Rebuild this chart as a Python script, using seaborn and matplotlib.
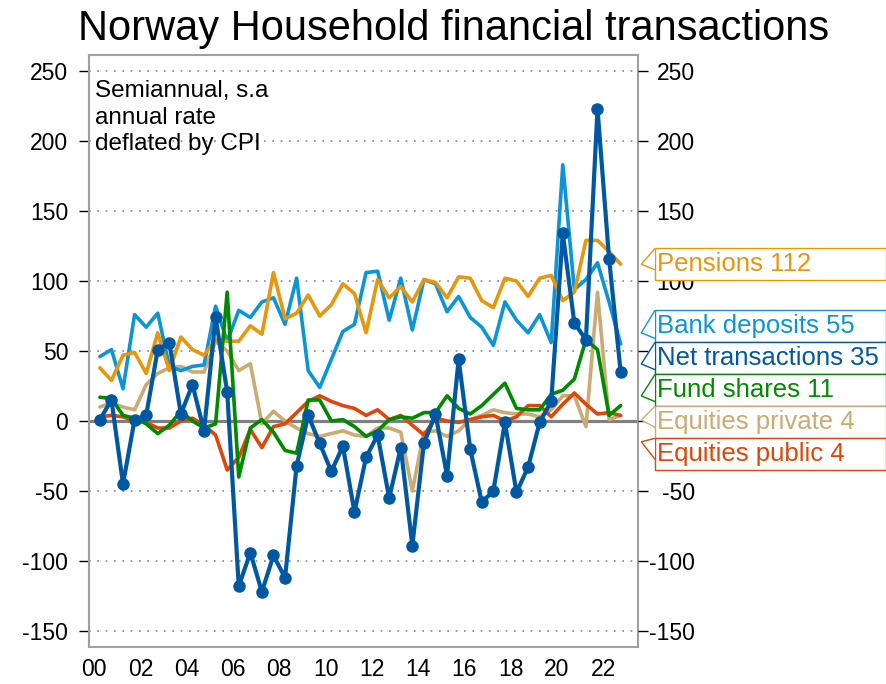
import numpy as np
import pandas as pd
import matplotlib.pyplot as plt
import matplotlib.transforms as mtransforms
from matplotlib.patches import Rectangle, Polygon
import seaborn as sns

sns.set_style('white')
plt.rcParams['font.family'] = ['Liberation Sans', 'DejaVu Sans']
plt.rcParams['axes.unicode_minus'] = False
plt.rcParams['text.color'] = 'black'
plt.rcParams['xtick.color'] = 'black'
plt.rcParams['ytick.color'] = 'black'

# Semiannual data, 2000H1 - 2022H2
years = np.repeat(np.arange(2000, 2023), 2)
half = np.tile([1, 2], 23)

net = [1, 15, -45, 1, 4, 51, 56, 5, 26, -7, 74, 21, -118, -94, -122, -96, -112, -32, 4, -16,
       -36, -18, -65, -26, -10, -55, -19, -89, -16, 5, -39, 44, -20, -58, -50, -1, -51, -33, -1, 14,
       134, 70, 58, 223, 116, 35]
pensions = [38, 29, 47, 49, 34, 63, 36, 60, 51, 47, 58, 57, 57, 68, 62, 106, 73, 77, 90, 75,
            83, 98, 91, 63, 101, 88, 96, 85, 101, 99, 88, 103, 102, 86, 81, 102, 100, 89, 102, 104,
            86, 92, 129, 129, 121, 112]
bank = [46, 51, 23, 76, 67, 77, 39, 36, 39, 40, 82, 57, 79, 74, 85, 88, 69, 102, 36, 24,
        44, 64, 69, 106, 107, 72, 102, 65, 101, 98, 78, 89, 74, 67, 54, 85, 72, 63, 76, 56,
        183, 94, 101, 113, 85, 55]
eq_private = [10, 13, 10, 8, 26, 34, 38, 39, 35, 35, 57, 50, 36, 41, -2, 7, 0, -5, -9, -11,
              -9, -7, -10, -11, -5, -5, -8, -50, -8, -7, -11, -7, 1, 4, 8, 6, 5, 5, 3, 8,
              18, 18, -4, 92, 1, 4]
eq_public = [3, 4, 3, 0, -1, -5, -5, 0, 2, -3, -10, -35, -26, -6, -19, -4, -2, 6, 14, 18,
             14, 11, 9, 4, 8, 1, 4, -3, -10, 2, 0, -1, 1, 3, 4, 0, 3, 11, 11, 3,
             12, 20, 12, 5, 6, 4]
fund = [17, 16, 4, 2, -2, -9, -3, 7, 0, -5, -2, 92, -40, -5, 1, -8, -21, -23, 15, 15,
        0, 1, -4, -11, -7, 1, 3, 2, 6, 6, 18, 9, 5, 11, 19, 27, 9, 8, 8, 19,
        22, 30, 58, 51, 4, 11]

xtick_years = np.arange(2000, 2023, 2)
xtick_labels = ['00', '02', '04', '06', '08', '10', '12', '14', '16', '18', '20', '22']
yticks = [-150, -100, -50, 0, 50, 100, 150, 200, 250]
# right side: 0 and 50 sit behind the label boxes
yticks_right = ['-150', '-100', '-50', '', '', '100', '150', '200', '250']

df = pd.DataFrame({'x': years + (half - 1) * 0.5 + 0.25,
                   'Net transactions': net, 'Pensions': pensions, 'Bank deposits': bank,
                   'Equities private': eq_private, 'Equities public': eq_public,
                   'Fund shares': fund})

colors = {'Pensions': '#E8960C', 'Bank deposits': '#0A96D6', 'Net transactions': '#0058A3',
          'Fund shares': '#008A00', 'Equities private': '#CBAB72', 'Equities public': '#E0450A'}

fig = plt.figure(figsize=(8.87, 6.84), dpi=100)
ax = fig.add_axes([89 / 887, 37 / 684, 549 / 887, 592 / 684])

ax.axhline(0, color='#808080', lw=2.3, zorder=1.5)
for name in ['Equities private', 'Bank deposits', 'Pensions', 'Equities public', 'Fund shares']:
    sns.lineplot(data=df, x='x', y=name, color=colors[name], lw=2.6, ax=ax, zorder=3)
sns.lineplot(data=df, x='x', y='Net transactions', color=colors['Net transactions'], lw=3,
             marker='o', markersize=9, markeredgewidth=0, ax=ax, zorder=4)

ax.set_xlim(1999.78, 2023.5)
ax.set_ylim(-161.4, 261.4)
ax.set_xticks(xtick_years)
ax.set_xticklabels(xtick_labels)
ax.set_yticks(yticks)
ax.set_xlabel('')
ax.set_ylabel('')
ax.tick_params(axis='both', direction='out', length=7, width=1, color='black', labelsize=16.5)
ax.tick_params(axis='y', pad=8)
ax.tick_params(axis='x', pad=1)
ax.yaxis.grid(True, linestyle=(0, (1, 4)), color='#888888', lw=1.2)
for s in ax.spines.values():
    s.set_color('#a0a0a0')
    s.set_linewidth(1.5)

ax.text(0.011, 0.958, 'Semiannual, s.a\nannual rate\ndeflated by CPI', transform=ax.transAxes,
        fontsize=17.5, va='top', ha='left', linespacing=1.28)

fig.text(0.511, 0.958, 'Norway Household financial transactions', fontsize=30,
         ha='center', va='center')

# right-hand axis labels
ax2 = ax.twinx()
ax2.set_ylim(ax.get_ylim())
ax2.set_yticks(yticks)
ax2.set_yticklabels(yticks_right)
ax2.tick_params(axis='y', direction='out', length=7, width=1, color='black', labelsize=16.5,
                pad=34)
for lab in ax2.get_yticklabels():
    lab.set_horizontalalignment('right')
for s in ax2.spines.values():
    s.set_visible(False)

# callout labels at the right
trans = mtransforms.blended_transform_factory(ax2.transAxes, ax2.transData)
callouts = [('Pensions', pensions, 112.1, 112),
            ('Bank deposits', bank, 67.9, 63),
            ('Net transactions', net, 45.0, 40.7),
            ('Fund shares', fund, 22.1, 17.9),
            ('Equities private', eq_private, -0.7, 0.7),
            ('Equities public', eq_public, -23.6, -14.8)]
bh = 11.2
x0, x1, xt = 1.031, 1.452, 1.006
for name, vals, yc, ytip in callouts:
    c = colors[name]
    ax2.add_patch(Rectangle((x0, yc - bh), x1 - x0, 2 * bh, transform=trans, facecolor='white',
                            edgecolor=c, lw=1, clip_on=False, zorder=5))
    ytop = yc + bh
    ax2.add_patch(Polygon([(x0, ytop), (xt, ytip), (x0, min(ytop - 15, ytip - 4))],
                          closed=False, transform=trans, facecolor='white', edgecolor=c,
                          lw=1, clip_on=False, zorder=5))
    ax2.text(x0 + 0.004, yc, f'{name} {vals[-1]}', transform=trans, color=c, fontsize=18.5,
             ha='left', va='center', zorder=6)

fig.savefig('out.png', dpi=100)
